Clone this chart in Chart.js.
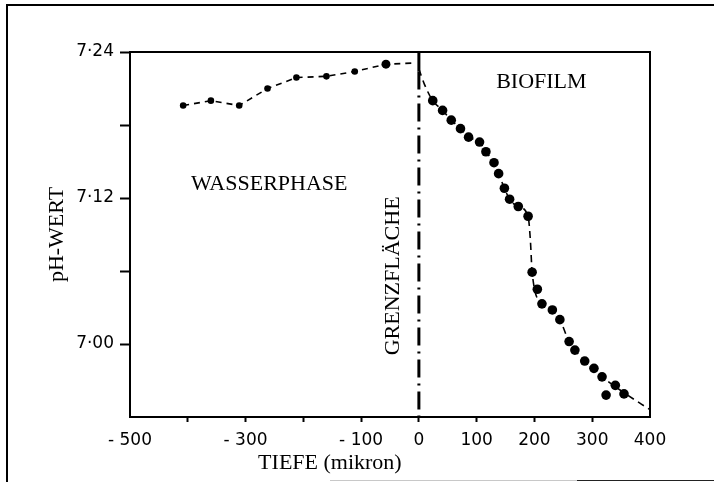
<!DOCTYPE html>
<html><head><meta charset="utf-8">
<script src="https://cdn.jsdelivr.net/npm/chart.js@4"></script>
<style>html,body{margin:0;padding:0;background:#fff}#wrap{width:714px;height:482px;position:relative}</style>
</head><body><div id="wrap"><canvas id="c"></canvas></div>
<script>
// ---- data ----
const waterDepth = [-408, -360, -311, -262, -212, -160, -111, -57];
const waterPH    = [7.196, 7.200, 7.196, 7.210, 7.219, 7.220, 7.224, 7.230];
const waterDotSize = [3.3, 3.3, 3.3, 3.3, 3.3, 3.3, 3.3, 4.5];

const biofilmDepth = [24, 41, 56, 72, 86, 105, 116, 130, 138, 148, 157, 172, 189,
                      196, 205, 213, 231, 244, 260, 270, 287, 303, 317, 340, 324, 355];
const biofilmPH    = [7.200, 7.192, 7.184, 7.177, 7.170, 7.166, 7.158, 7.149, 7.140, 7.128, 7.119, 7.113, 7.105,
                      7.059, 7.045, 7.033, 7.028, 7.020, 7.002, 6.995, 6.986, 6.980, 6.973, 6.966, 6.958, 6.959];

const waterCurveDepth = [-408, -360, -311, -262, -212, -160, -111, -57, -5];
const waterCurvePH    = [7.196, 7.200, 7.196, 7.210, 7.219, 7.220, 7.224, 7.230, 7.231];

const biofilmCurveDepth = [0, 10, 24, 41, 56, 72, 86, 105, 116, 130, 138, 148, 157, 172, 189, 193, 196,
                           213, 231, 244, 260, 287, 317, 355, 400];
const biofilmCurvePH    = [7.226, 7.213, 7.200, 7.192, 7.184, 7.177, 7.170, 7.166, 7.158, 7.149, 7.140, 7.128, 7.119, 7.113, 7.105, 7.085, 7.059,
                           7.033, 7.028, 7.020, 7.002, 6.986, 6.973, 6.960, 6.946];

const interfaceDepth = 0;
const interfaceSolidPH = [7.24, 7.224];
const interfaceDashPH  = [7.224, 6.94];

const xLabeledTicks = [-500, -300, -100, 0, 100, 200, 300, 400];
const yLabeledTicks = [7.00, 7.12, 7.24];

const xTitle = 'TIEFE (mikron)';
const yTitle = 'pH-WERT';
const regionLabels = ['WASSERPHASE', 'BIOFILM', 'GRENZFLÄCHE'];

// ---- helpers ----
const pts = (xs, ys) => xs.map((x, i) => ({x: x, y: ys[i]}));
const near = (v, list, eps) => list.some(t => Math.abs(t - v) < eps);
const SERIF = '"Liberation Serif", "Times New Roman", serif';
const SANS = '"DejaVu Sans", sans-serif';

const decorPlugin = {
  id: 'decor',
  beforeDraw(chart) {
    const c = chart.ctx;
    c.save();
    c.fillStyle = '#fff';
    c.fillRect(0, 0, chart.width, chart.height);
    c.strokeStyle = '#000';
    c.lineWidth = 2;
    c.beginPath();
    c.moveTo(7, chart.height);
    c.lineTo(7, 5);
    c.lineTo(chart.width, 5);
    c.stroke();
    // scanned page edge at the bottom
    c.lineWidth = 1;
    c.strokeStyle = '#c8c8c8';
    c.beginPath();
    c.moveTo(330, chart.height - 1.5);
    c.lineTo(577, chart.height - 1.5);
    c.stroke();
    c.strokeStyle = '#222';
    c.beginPath();
    c.moveTo(577, chart.height - 1.5);
    c.lineTo(chart.width, chart.height - 1.5);
    c.stroke();
    c.restore();
  },
  afterDraw(chart) {
    const c = chart.ctx, a = chart.chartArea;
    const xs = chart.scales.x, ys = chart.scales.y;
    c.save();
    c.strokeStyle = '#000';
    c.lineWidth = 2;
    c.beginPath();
    c.moveTo(a.left, a.top);
    c.lineTo(a.right, a.top);
    c.lineTo(a.right, a.bottom);
    c.stroke();

    c.fillStyle = '#000';
    c.font = '22px ' + SERIF;
    c.textAlign = 'center';
    c.textBaseline = 'middle';
    c.fillText(regionLabels[0], xs.getPixelForValue(-259), ys.getPixelForValue(7.131));
    c.fillText(regionLabels[1], xs.getPixelForValue(212), ys.getPixelForValue(7.215));
    c.save();
    c.translate(xs.getPixelForValue(-45), ys.getPixelForValue(7.056));
    c.rotate(-Math.PI / 2);
    c.fillText(regionLabels[2], 0, 0);
    c.restore();
    // x axis title
    c.font = '22px ' + SERIF;
    c.fillText(xTitle, xs.getPixelForValue(-154), a.bottom + 46);
    c.restore();
  }
};

new Chart(document.getElementById('c'), {
  type: 'scatter',
  data: {
    datasets: [
      {
        label: 'water curve', data: pts(waterCurveDepth, waterCurvePH), showLine: true,
        borderColor: '#000', borderWidth: 1.6, borderDash: [6, 5], pointRadius: 0, pointHoverRadius: 0
      },
      {
        label: 'biofilm curve', data: pts(biofilmCurveDepth, biofilmCurvePH), showLine: true,
        borderColor: '#000', borderWidth: 1.6, borderDash: [7, 5], pointRadius: 0, pointHoverRadius: 0,
        cubicInterpolationMode: 'monotone'
      },
      {
        label: 'interface solid', data: pts([interfaceDepth, interfaceDepth], interfaceSolidPH), showLine: true,
        borderColor: '#000', borderWidth: 3, pointRadius: 0, pointHoverRadius: 0
      },
      {
        label: 'interface', data: pts([interfaceDepth, interfaceDepth], interfaceDashPH), showLine: true,
        borderColor: '#000', borderWidth: 3, borderDash: [18, 6, 2, 6], pointRadius: 0, pointHoverRadius: 0
      },
      {
        label: 'Wasserphase', data: pts(waterDepth, waterPH),
        pointRadius: waterDotSize, pointHoverRadius: waterDotSize,
        pointBackgroundColor: '#000', pointBorderColor: '#000', pointBorderWidth: 0
      },
      {
        label: 'Biofilm', data: pts(biofilmDepth, biofilmPH),
        pointRadius: 4.8, pointHoverRadius: 4.8,
        pointBackgroundColor: '#000', pointBorderColor: '#000', pointBorderWidth: 0
      }
    ]
  },
  options: {
    responsive: true,
    maintainAspectRatio: false,
    animation: false,
    devicePixelRatio: 1,
    layout: {padding: {left: 0, top: 52, right: 64, bottom: 0}},
    plugins: {legend: {display: false}, tooltip: {enabled: false}},
    events: [],
    scales: {
      x: {
        type: 'linear', min: -500, max: 400,
        ticks: {
          stepSize: 100, autoSkip: false, maxRotation: 0, minRotation: 0, padding: 8,
          color: '#000', font: {family: SANS, size: 17},
          callback: v => near(v, xLabeledTicks, 1e-6) ? (v < 0 ? '- ' + Math.abs(v) : String(v)) : ''
        },
        grid: {
          drawOnChartArea: false, drawTicks: true, tickLength: 5, tickWidth: 2,
          tickColor: ctx => (ctx.tick && (Math.abs(ctx.tick.value + 500) < 1e-6 || Math.abs(ctx.tick.value - 400) < 1e-6)) ? 'rgba(0,0,0,0)' : '#000'
        },
        border: {display: true, color: '#000', width: 2},
        title: {display: false},
        afterFit: s => { s.height = 65; }
      },
      y: {
        type: 'linear', min: 6.94, max: 7.24,
        ticks: {
          stepSize: 0.06, autoSkip: false, padding: 6,
          color: '#000', font: {family: SANS, size: 17},
          callback: v => near(v, yLabeledTicks, 1e-6) ? v.toFixed(2).replace('.', '·') : ''
        },
        grid: {
          drawOnChartArea: false, drawTicks: true, tickLength: 10, tickWidth: 2,
          tickColor: ctx => (ctx.tick && Math.abs(ctx.tick.value - 6.94) < 1e-6) ? 'rgba(0,0,0,0)' : '#000'
        },
        border: {display: true, color: '#000', width: 2},
        title: {
          display: true, text: yTitle, color: '#000',
          font: {family: SERIF, size: 22}, padding: {top: 44, bottom: 0}
        },
        afterFit: s => { s.width = 130; }
      }
    }
  },
  plugins: [decorPlugin]
});
</script>
</body></html>
